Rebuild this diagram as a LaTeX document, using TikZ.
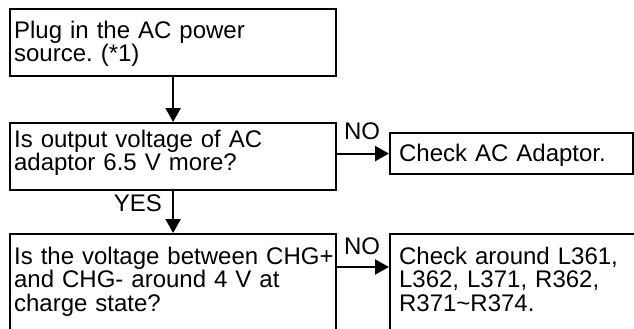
\documentclass[tikz,border=0pt]{standalone}
\usepackage{fontspec}
\setmainfont{Liberation Sans}
\usetikzlibrary{positioning,arrows.meta}
\frenchspacing

\begin{document}
\begin{tikzpicture}[
  x=1pt,y=-1pt,
  stepbox/.style={draw,line width=2.2pt,anchor=north west,inner xsep=4pt,inner ysep=0pt,align=left,text width=#1,font=\fontsize{24}{23.5}\selectfont},
  answer/.style={inner sep=0pt,font=\fontsize{24}{24}\selectfont},
  flow/.style={-{Triangle[length=14pt,width=15pt]},line width=2.2pt}
]
\useasboundingbox (0,0) rectangle (634,329);
\clip (0,0) rectangle (634,329);
\node[stepbox=318pt,text height=29pt,text depth=38pt] (plug) at (9,8) {Plug in the AC power\\source. (*1)};
\node[stepbox=318pt,text height=24pt,text depth=43pt] (output) at (9,122) {Is output voltage of AC\\adaptor 6.5 V more?};
\node[stepbox=225pt,inner xsep=9pt,text height=28pt,text depth=13pt] (adaptor) at (389,132) {Check AC Adaptor.};
\node[stepbox=318pt,text height=30pt,text depth=110pt] (chg) at (9,233) {\mbox{Is the voltage between CHG+}\\and CHG- around 4 V at\\charge state?};
\node[stepbox=260pt,inner xsep=9pt,text height=30pt,text depth=110pt] (around) at (389,233) {Check around L361,\\L362, L371, R362,\\R371\textasciitilde R374.};
\node[answer,anchor=east] (yes) at (162,203) {YES};
\node[answer] (no1) at (362,131) {NO};
\node[answer] (no2) at (362,246) {NO};

\draw[flow] (plug) -- (output);
\draw[flow] (output.east |- adaptor.west) -- (adaptor.west);
\draw[flow] (output) -- (output |- chg.north);
\draw[flow] ([yshift=-34pt]chg.north east) -- ([yshift=-34pt]around.north west);
\end{tikzpicture}
\end{document}
